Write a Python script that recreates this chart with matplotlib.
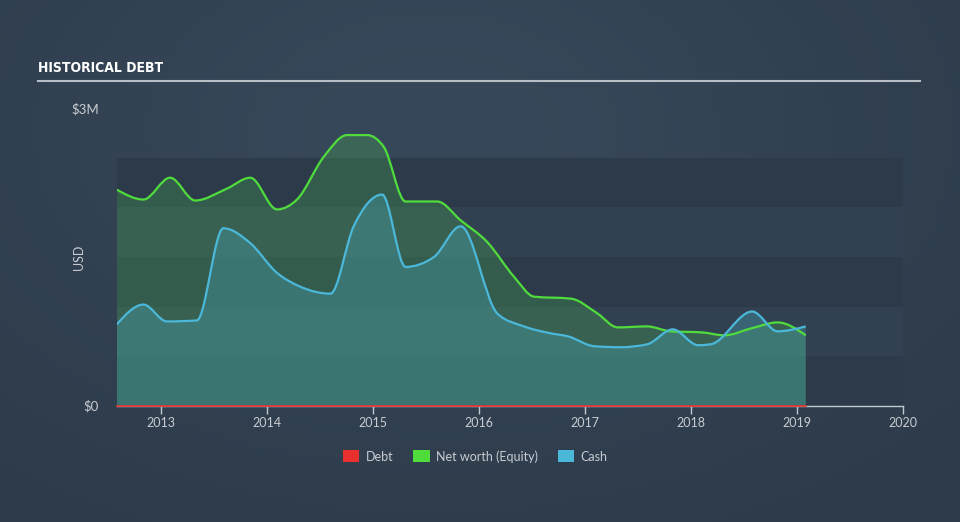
import matplotlib
matplotlib.use('Agg')
import matplotlib.pyplot as plt
import numpy as np
from matplotlib.path import Path
from matplotlib.patches import PathPatch, Patch

plt.rcParams['font.family'] = ['Lato', 'DejaVu Sans']

# values (years, millions of USD)
equity_years = [2012.584, 2012.836, 2013.088, 2013.324, 2013.624, 2013.844, 2014.096, 2014.285,
                2014.537, 2014.758, 2014.947, 2015.104, 2015.309, 2015.609, 2015.829, 2016.081,
                2016.333, 2016.522, 2016.87, 2017.12, 2017.31, 2017.59, 2017.81, 2018.10,
                2018.32, 2018.57, 2018.82, 2019.085]
equity = [2.18, 2.08, 2.30, 2.07, 2.19, 2.30, 1.98, 2.08,
          2.51, 2.73, 2.73, 2.61, 2.06, 2.06, 1.87, 1.65,
          1.30, 1.10, 1.08, 0.93, 0.79, 0.80, 0.75, 0.74,
          0.71, 0.78, 0.84, 0.71]

cash_years = [2012.584, 2012.836, 2013.057, 2013.34, 2013.59, 2013.844, 2014.096, 2014.317,
              2014.6, 2014.82, 2015.088, 2015.309, 2015.577, 2015.829, 2016.175, 2016.427,
              2016.68, 2016.84, 2017.09, 2017.34, 2017.59, 2017.83, 2018.07, 2018.19,
              2018.58, 2018.82, 2019.085]
cash = [0.82, 1.02, 0.85, 0.86, 1.79, 1.64, 1.34, 1.20,
        1.13, 1.81, 2.13, 1.40, 1.50, 1.81, 0.93, 0.80,
        0.73, 0.70, 0.60, 0.59, 0.62, 0.77, 0.61, 0.62,
        0.95, 0.75, 0.80]

debt_years = [2012.584, 2019.085]
debt = [0.0, 0.0]

year_ticks = [2013, 2014, 2015, 2016, 2017, 2018, 2019, 2020]
legend_labels = ['Debt', 'Net worth (Equity)', 'Cash']

bg = '#313f4f'
green = '#4fdc3c'
blue = '#4bb8d9'
red = '#e8302e'
text_col = '#c8ccd2'


def tangents(x, y):
    # monotone cubic slopes (Fritsch-Carlson, like d3 monotoneX)
    x = np.asarray(x, float)
    y = np.asarray(y, float)
    h = np.diff(x)
    s = np.diff(y) / h
    m = np.zeros(len(x))
    for i in range(1, len(x) - 1):
        if s[i - 1] * s[i] <= 0:
            m[i] = 0
        else:
            p = (s[i - 1] * h[i] + s[i] * h[i - 1]) / (h[i - 1] + h[i])
            m[i] = np.sign(s[i]) * min(abs(s[i - 1]), abs(s[i]), 0.5 * abs(p)) * 2
    m[0] = (3 * s[0] - m[1]) / 2
    m[-1] = (3 * s[-1] - m[-2]) / 2
    return m


def curve_path(x, y, closed=False):
    m = tangents(x, y)
    verts = [(x[0], y[0])]
    codes = [Path.MOVETO]
    for i in range(len(x) - 1):
        dx = (x[i + 1] - x[i]) / 3
        verts += [(x[i] + dx, y[i] + m[i] * dx),
                  (x[i + 1] - dx, y[i + 1] - m[i + 1] * dx),
                  (x[i + 1], y[i + 1])]
        codes += [Path.CURVE4] * 3
    if closed:
        verts += [(x[-1], 0), (x[0], 0), (x[0], y[0])]
        codes += [Path.LINETO, Path.LINETO, Path.CLOSEPOLY]
    return Path(verts, codes)


fig = plt.figure(figsize=(9.6, 5.22), dpi=100)
fig.patch.set_facecolor(bg)

# soft background glow
bgax = fig.add_axes([0, 0, 1, 1], zorder=-10)
gx, gy = np.meshgrid(np.linspace(0, 1, 200), np.linspace(0, 1, 120))
glow = np.exp(-((gx - 0.45) ** 2 / 0.25 + (gy - 0.25) ** 2 / 0.35))
c0 = np.array([0x2d, 0x3a, 0x49]) / 255
c1 = np.array([0x37, 0x48, 0x5a]) / 255
img = c0 + (c1 - c0) * glow[..., None]
bgax.imshow(img, aspect='auto', extent=[0, 1, 0, 1])
bgax.axis('off')

ax = fig.add_axes([0.1216, 0.2228, 0.8187, 0.5697])
ax.set_facecolor('none')
ax.set_xlim(2012.584, 2020.0)
ax.set_ylim(0, 3.0)

# horizontal bands
for i, lo in enumerate(np.arange(0, 2.5, 0.5)):
    col = '#2c3a4a' if i % 2 == 0 else '#324152'
    ax.axhspan(lo, lo + 0.5, color=col, zorder=0, lw=0)

ax.add_patch(PathPatch(curve_path(equity_years, equity, True), facecolor='#4cb555',
                       alpha=0.28, edgecolor='none', zorder=1))
ax.add_patch(PathPatch(curve_path(cash_years, cash, True), facecolor='#459eaf',
                       alpha=0.38, edgecolor='none', zorder=2))
ax.add_patch(PathPatch(curve_path(equity_years, equity), facecolor='none',
                       edgecolor=green, lw=1.6, zorder=3))
ax.add_patch(PathPatch(curve_path(cash_years, cash), facecolor='none',
                       edgecolor=blue, lw=1.6, zorder=4))
ax.plot(debt_years, debt, color=red, lw=1.2, zorder=5, clip_on=False)

for sp in ['top', 'right', 'left']:
    ax.spines[sp].set_visible(False)
ax.spines['bottom'].set_color('#c0c8d0')
ax.spines['bottom'].set_linewidth(1)

ax.set_xticks(year_ticks)
ax.set_xticklabels([str(y) for y in year_ticks])
ax.tick_params(axis='x', colors='#c0c8d0', labelcolor=text_col, length=6, width=1,
               labelsize=9, pad=2)
ax.set_yticks([0, 3.0])
ax.set_yticklabels(['$0', '$3M'])
ax.tick_params(axis='y', length=0, labelcolor=text_col, labelsize=9.5, pad=13)
ax.set_ylabel('USD', color=text_col, fontsize=9)
ax.yaxis.set_label_coords(-0.041, 0.5)

fig.text(0.040, 0.870, 'HISTORICAL DEBT', color='white', fontsize=10, fontweight='bold',
         family='DejaVu Sans', fontstretch='condensed', va='center', ha='left')
fig.add_artist(plt.Line2D([0.040, 0.958], [0.845, 0.845], color='#b8bec6', lw=1.5))

handles = [Patch(facecolor=red, edgecolor='none'),
           Patch(facecolor=green, edgecolor='none'),
           Patch(facecolor=blue, edgecolor='none')]
leg = fig.legend(handles, legend_labels, loc='center', bbox_to_anchor=(0.495, 0.126), ncol=3,
                 frameon=False, fontsize=9, handlelength=1.3, handleheight=1.1,
                 columnspacing=1.6, handletextpad=0.5)
for t in leg.get_texts():
    t.set_color(text_col)

fig.savefig('out.png', dpi=100, facecolor=fig.get_facecolor())
